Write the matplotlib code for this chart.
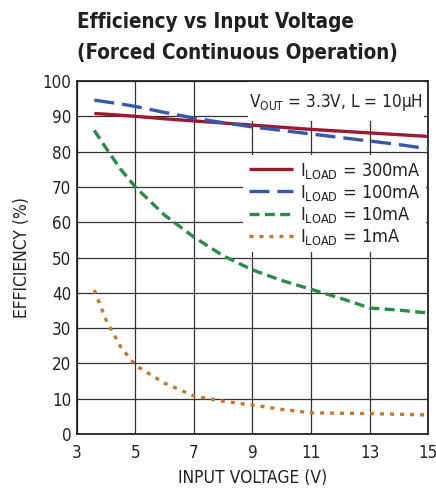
import matplotlib
matplotlib.use("Agg")
import matplotlib.pyplot as plt
from matplotlib.patches import Rectangle

FONT = ['DejaVu Sans']
plt.rcParams['font.family'] = FONT
plt.rcParams['font.stretch'] = 'condensed'
plt.rcParams['mathtext.fontset'] = 'custom'
plt.rcParams['mathtext.rm'] = 'DejaVu Sans:stretch=condensed'

vin = [3.6, 4, 4.5, 5, 6, 7, 8, 9, 10, 11, 12, 13, 14, 15]
eff_300mA = [90.8, 90.6, 90.3, 90.0, 89.3, 88.7, 88.1, 87.5, 86.9, 86.3, 85.8, 85.3, 84.8, 84.3]
eff_100mA = [94.6, 94.1, 93.5, 92.8, 91.1, 89.5, 88.2, 87.0, 86.0, 85.0, 84.0, 83.0, 82.0, 80.8]
eff_10mA = [86.0, 81.0, 75.0, 70.0, 62.0, 55.8, 50.5, 46.5, 43.5, 41.0, 38.5, 35.7, 35.1, 34.3]
eff_1mA = [40.8, 32.3, 24.7, 19.5, 14.4, 10.8, 9.3, 8.2, 7.0, 6.0, 5.9, 5.8, 5.6, 5.4]

labels = [r'I$_{\mathregular{LOAD}}$ = 300mA', r'I$_{\mathregular{LOAD}}$ = 100mA',
          r'I$_{\mathregular{LOAD}}$ = 10mA', r'I$_{\mathregular{LOAD}}$ = 1mA']
xticks = [3, 5, 7, 9, 11, 13, 15]
yticks = list(range(0, 101, 10))

fig = plt.figure(figsize=(4.36, 4.91), dpi=100)
ax = fig.add_axes([0.176, 0.116, 0.806, 0.719])

ax.plot(vin, eff_300mA, color='#9a1a32', lw=2.4, solid_capstyle='butt', zorder=4, label=labels[0])
ax.plot(vin, eff_100mA, color='#3558ad', lw=2.4, dashes=(6, 2.4), zorder=4, label=labels[1])
ax.plot(vin, eff_10mA, color='#2a8a48', lw=2.4, dashes=(3, 1.6), zorder=4, label=labels[2])
ax.plot(vin, eff_1mA, color='#c4782e', lw=2.4, dashes=(1.2, 1.8), zorder=4, label=labels[3])

ax.set_xlim(3, 15)
ax.set_ylim(0, 100)
ax.set_xticks(xticks)
ax.set_yticks(yticks)
ax.grid(True, color='#333333', lw=0.9)
ax.set_axisbelow(True)
for s in ax.spines.values():
    s.set_linewidth(1.3)
    s.set_color('#222222')
ax.tick_params(length=0, labelsize=12.2, colors='#222222')
ax.tick_params(axis='x', pad=7)
ax.tick_params(axis='y', pad=4)

ax.set_xlabel('INPUT VOLTAGE (V)', fontsize=12.5, color='#222222', labelpad=5)
ax.set_ylabel('EFFICIENCY (%)', fontsize=12.5, color='#222222', labelpad=8)

ax.add_patch(Rectangle((0.488, 0.888), 0.5, 0.112, transform=ax.transAxes,
                       facecolor='white', edgecolor='none', zorder=2))
ax.text(0.985, 0.94, r'V$_{\mathregular{OUT}}$ = 3.3V, L = 10μH', transform=ax.transAxes,
        ha='right', va='center', fontsize=12.3, color='#222222', zorder=5)

leg = ax.legend(loc='upper right', bbox_to_anchor=(0.995, 0.79), fontsize=13,
                frameon=True, fancybox=False, framealpha=1, edgecolor='none',
                facecolor='white', handlelength=2.45, handletextpad=0.4,
                labelspacing=0.12, borderpad=0.3, borderaxespad=0)
leg.set_zorder(3)
for t in leg.get_texts():
    t.set_color('#222222')

fig.text(0.176, 0.955, 'Efficiency vs Input Voltage', fontsize=14.8, weight='bold',
         ha='left', va='center', color='#231f20')
fig.text(0.176, 0.893, '(Forced Continuous Operation)', fontsize=14.8, weight='bold',
         ha='left', va='center', color='#231f20')

fig.savefig('out.png', dpi=100)
